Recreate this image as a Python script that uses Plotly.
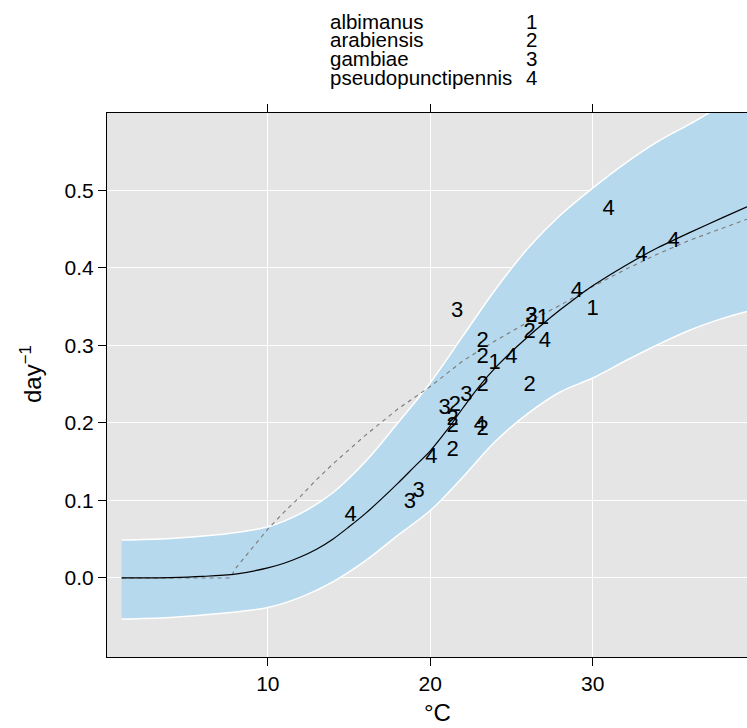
import plotly.graph_objects as go

# ---- data ----
species_names = ["albimanus", "arabiensis", "gambiae", "pseudopunctipennis"]
species_codes = ["1", "2", "3", "4"]

# observed points (temperature °C, rate day^-1)
albimanus_temp = [23.97, 26.94, 30.0]
albimanus_rate = [0.277, 0.335, 0.347]

arabiensis_temp = [21.38, 21.38, 21.38, 21.51, 23.23, 23.23, 23.23, 23.23, 26.12, 26.22, 26.12]
arabiensis_rate = [0.165, 0.204, 0.195, 0.223, 0.191, 0.249, 0.285, 0.305, 0.249, 0.337, 0.317]

gambiae_temp = [18.74, 19.29, 20.89, 22.23, 21.65, 26.22]
gambiae_rate = [0.098, 0.111, 0.219, 0.236, 0.344, 0.337]

pseudo_temp = [15.1, 20.07, 23.05, 25.0, 27.05, 29.02, 30.98, 33.0, 34.98]
pseudo_rate = [0.080, 0.156, 0.197, 0.285, 0.305, 0.370, 0.476, 0.416, 0.434]

# fitted curve (solid)
fit_temp = [1, 4, 6, 8, 10, 11, 12, 13, 14, 15, 16, 17, 18, 19, 20, 21, 22, 23, 24, 25, 26, 27, 28, 29, 30, 32, 34, 36, 38, 39.5]
fit_rate = [0.0, 0.0005, 0.002, 0.005, 0.013, 0.019, 0.027, 0.037, 0.050, 0.066, 0.083, 0.102, 0.122, 0.143, 0.164, 0.190, 0.219, 0.247, 0.271, 0.292, 0.311, 0.329, 0.346, 0.362, 0.377, 0.403, 0.426, 0.446, 0.465, 0.479]

# prediction band
band_temp = [1, 4, 7, 10, 12, 14, 16, 18, 20, 22, 24, 26, 28, 30, 32, 34, 36, 38, 39.5]
band_upper = [0.049, 0.051, 0.056, 0.066, 0.083, 0.110, 0.150, 0.200, 0.252, 0.312, 0.372, 0.425, 0.468, 0.503, 0.535, 0.563, 0.586, 0.610, 0.625]
band_lower = [-0.053, -0.051, -0.046, -0.038, -0.025, -0.005, 0.022, 0.055, 0.087, 0.130, 0.176, 0.212, 0.240, 0.258, 0.280, 0.301, 0.320, 0.335, 0.344]

# alternative model (dashed)
alt_temp = [1, 7.7, 8, 9, 10, 11, 12, 13, 14, 16, 18, 20, 22, 24, 26, 28, 30, 32, 34, 36, 38, 39.5]
alt_rate = [0.0, 0.0, 0.012, 0.038, 0.063, 0.085, 0.105, 0.127, 0.147, 0.184, 0.218, 0.247, 0.280, 0.306, 0.330, 0.352, 0.376, 0.398, 0.418, 0.436, 0.452, 0.463]

x_ticks = [10, 20, 30]
y_ticks = [0.0, 0.1, 0.2, 0.3, 0.4, 0.5]
y_ticklabels = ["0.0", "0.1", "0.2", "0.3", "0.4", "0.5"]

FONT = "Liberation Sans, Arial, Helvetica, sans-serif"

fig = go.Figure()

# band
fig.add_trace(go.Scatter(x=band_temp, y=band_lower, mode="lines", line=dict(color="white", width=1.5, shape="spline"),
                         hoverinfo="skip", showlegend=False))
fig.add_trace(go.Scatter(x=band_temp, y=band_upper, mode="lines", line=dict(color="white", width=1.5, shape="spline"),
                         fill="tonexty", fillcolor="#B6D9EE", hoverinfo="skip", showlegend=False))

# dashed model
fig.add_trace(go.Scatter(x=alt_temp, y=alt_rate, mode="lines",
                         line=dict(color="#7a7a7a", width=1.1, dash="4px,4px"), showlegend=False))
# solid fit
fig.add_trace(go.Scatter(x=fit_temp, y=fit_rate, mode="lines",
                         line=dict(color="black", width=1.2, shape="spline", smoothing=0.8), showlegend=False))

# points drawn as species numbers
for temps, rates, code in [(albimanus_temp, albimanus_rate, "1"),
                           (arabiensis_temp, arabiensis_rate, "2"),
                           (gambiae_temp, gambiae_rate, "3"),
                           (pseudo_temp, pseudo_rate, "4")]:
    fig.add_trace(go.Scatter(x=temps, y=rates, mode="text", text=[code] * len(temps),
                             textposition="middle center",
                             textfont=dict(family=FONT, size=22, color="black"), showlegend=False))

# layout geometry (page pixels)
L, R, T, B = 107, 0, 113, 71
W, H = 747, 728
pw, ph = W - L - R, H - T - B

def px2paper(px, py):
    return (px - L) / pw, (H - B - py) / ph

annotations = []
legend_rows = [21.5, 40, 58.5, 77]
for name, code, py in zip(species_names, species_codes, legend_rows):
    xa, ya = px2paper(328, py)
    annotations.append(dict(x=xa, y=ya, xref="paper", yref="paper", text=name, showarrow=False,
                            xanchor="left", yanchor="middle", font=dict(family=FONT, size=20.5, color="black")))
    xb, _ = px2paper(531.5, py)
    annotations.append(dict(x=xb, y=ya, xref="paper", yref="paper", text=code, showarrow=False,
                            xanchor="center", yanchor="middle", font=dict(family=FONT, size=20.5, color="black")))

xt, yt = px2paper(437, 712)
annotations.append(dict(x=xt, y=yt, xref="paper", yref="paper", text="°C", showarrow=False,
                        xanchor="center", yanchor="middle", font=dict(family=FONT, size=24, color="black")))
xt, yt = px2paper(31, 374)
annotations.append(dict(x=xt, y=yt, xref="paper", yref="paper", text="day<sup>−1</sup>", showarrow=False,
                        textangle=-90, xanchor="center", yanchor="middle", font=dict(family=FONT, size=24, color="black")))

fig.update_layout(
    width=W, height=H,
    margin=dict(l=L, r=R, t=T, b=B, pad=0),
    plot_bgcolor="#E5E5E5", paper_bgcolor="white",
    font=dict(family=FONT, color="black"),
    annotations=annotations,
    xaxis=dict(range=[0.1, 39.5], tickvals=x_ticks, ticks="outside", ticklen=8, tickcolor="black",
               showline=True, linecolor="black", linewidth=1, mirror="ticks", automargin=False,
               showgrid=True, gridcolor="white", gridwidth=1, zeroline=False,
               tickfont=dict(family=FONT, size=21, color="black")),
    yaxis=dict(range=[-0.102, 0.6], tickvals=y_ticks, ticktext=y_ticklabels, ticks="outside", ticklen=8,
               tickcolor="black", showline=True, linecolor="black", linewidth=1, mirror=False, automargin=False,
               showgrid=True, gridcolor="white", gridwidth=1, zeroline=False,
               tickfont=dict(family=FONT, size=21, color="black")),
)

fig.write_html("out.html", config={"displayModeBar": False},
               post_script="document.body.style.margin='0px';document.body.style.overflow='hidden';")
